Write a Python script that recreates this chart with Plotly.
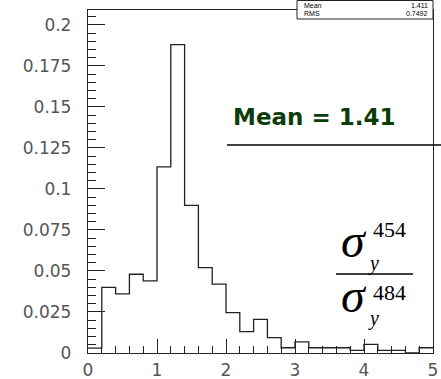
import plotly.graph_objects as go

bin_edges = [round(0.2 * i, 1) for i in range(26)]
bin_values = [0.003, 0.040, 0.036, 0.048, 0.044, 0.1135, 0.188, 0.090, 0.052, 0.042,
              0.0246, 0.013, 0.0205, 0.0094, 0.0032, 0.0068, 0.0032, 0.0032, 0.0032, 0.0016,
              0.0052, 0.0016, 0.0016, 0.0, 0.0032]
x_ticks = [0, 1, 2, 3, 4, 5]
x_ticktext = ["0", "1", "2", "3", "4", "5"]
y_ticks = [0, 0.025, 0.05, 0.075, 0.1, 0.125, 0.15, 0.175, 0.2]
y_ticktext = ["0", "0.025", "0.05", "0.075", "0.1", "0.125", "0.15", "0.175", "0.2"]
stat_names = ["Mean", "RMS"]
stat_values = ["1.411", "0.7492"]
mean_label = "Mean = 1.41"

W, H = 441, 379
ML, MR, MT, MB = 88, 8, 10, 26
PW, PH = W - ML - MR, H - MT - MB

def px(x):
    return (x - ML) / PW

def py(y):
    return (H - MB - y) / PH

xs = bin_edges
ys = bin_values + [bin_values[-1]]

fig = go.Figure()
fig.add_trace(go.Scatter(x=xs, y=ys, mode="lines", line=dict(shape="hv", color="#222", width=1.3),
                         hoverinfo="skip", showlegend=False))

tickfont = dict(family="DejaVu Sans", size=17, color="#555")
fig.update_layout(
    width=W, height=H, margin=dict(l=ML, r=MR, t=MT, b=MB),
    paper_bgcolor="white", plot_bgcolor="white", showlegend=False,
    xaxis=dict(range=[0, 5], tickvals=x_ticks, ticktext=x_ticktext, ticks="inside", ticklen=14,
               tickcolor="#222", tickwidth=1.2, showgrid=False, zeroline=False,
               showline=True, linecolor="#222", linewidth=1.3, mirror=True, automargin=False,
               tickfont=tickfont, ticklabelstandoff=1,
               minor=dict(dtick=0.2, ticks="inside", ticklen=7, tickcolor="#222", tickwidth=1.2, showgrid=False)),
    yaxis=dict(range=[0, 0.2091], tickvals=y_ticks, ticktext=y_ticktext, ticks="inside", ticklen=17,
               tickcolor="#222", tickwidth=1.2, showgrid=False, zeroline=False,
               showline=True, linecolor="#222", linewidth=1.3, mirror=True, automargin=False,
               tickfont=tickfont, ticklabelstandoff=12,
               minor=dict(dtick=0.005, ticks="inside", ticklen=8, tickcolor="#222", tickwidth=1.2, showgrid=False)),
)

shapes = []
# stats box
shapes.append(dict(type="rect", xref="paper", yref="paper", x0=px(297), x1=px(433), y0=py(19), y1=py(0.5),
                   line=dict(color="#222", width=1), fillcolor="white", layer="above"))
# mean line
shapes.append(dict(type="line", xref="paper", yref="paper", x0=px(227), x1=px(441), y0=py(145), y1=py(145),
                   line=dict(color="black", width=1.5)))
# fraction line
shapes.append(dict(type="line", xref="paper", yref="paper", x0=px(336), x1=px(413), y0=py(274), y1=py(274),
                   line=dict(color="black", width=1.5)))
fig.update_layout(shapes=shapes)

ann = []
statfont = dict(family="Liberation Sans", size=7, color="black")
for i, (n, v) in enumerate(zip(stat_names, stat_values)):
    yc = 5.2 + i * 8.6
    ann.append(dict(text=n, xref="paper", yref="paper", x=px(302), y=py(yc), xanchor="left", yanchor="middle",
                    showarrow=False, font=statfont))
    ann.append(dict(text=v, xref="paper", yref="paper", x=px(430), y=py(yc), xanchor="right", yanchor="middle",
                    showarrow=False, font=statfont))
ann.append(dict(text="<b>" + mean_label + "</b>", xref="paper", yref="paper", x=px(231), y=py(117),
                xanchor="left", yanchor="middle", showarrow=False,
                font=dict(family="DejaVu Sans", size=23, color="#0b3d0b")))
serif = "Liberation Serif"
for yoff in (0, 55):
    ann.append(dict(text="<i>σ</i>", xref="paper", yref="paper", x=px(354), y=py(240 + yoff),
                    xanchor="center", yanchor="middle", showarrow=False,
                    font=dict(family=serif, size=48, color="black")))
    ann.append(dict(text="<i>y</i>", xref="paper", yref="paper", x=px(373), y=py(263 + yoff),
                    xanchor="center", yanchor="middle", showarrow=False,
                    font=dict(family=serif, size=20, color="black")))
ann.append(dict(text="454", xref="paper", yref="paper", x=px(389), y=py(229), xanchor="center", yanchor="middle",
                showarrow=False, font=dict(family=serif, size=22, color="black")))
ann.append(dict(text="484", xref="paper", yref="paper", x=px(389), y=py(292), xanchor="center", yanchor="middle",
                showarrow=False, font=dict(family=serif, size=22, color="black")))
fig.update_layout(annotations=ann)

fig.write_html("out.html")
